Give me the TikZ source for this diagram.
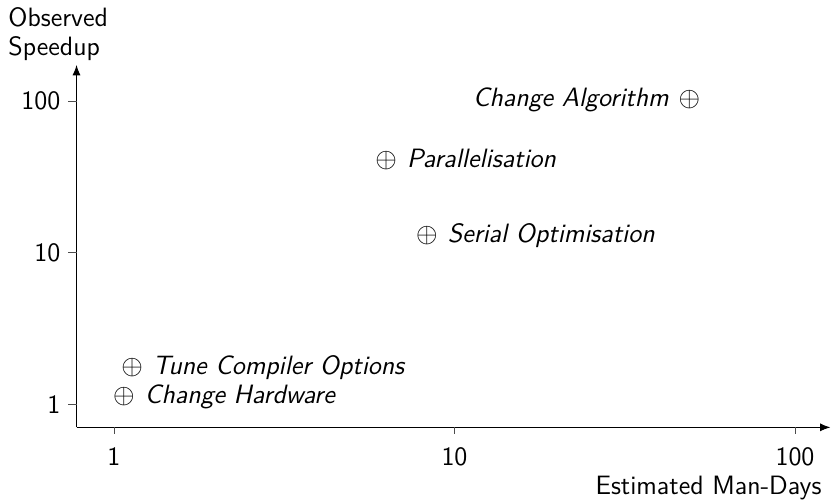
\documentclass[tikz,border=0pt]{standalone}
\usepackage{tikz}
\usetikzlibrary{arrows.meta,positioning}
\newcommand{\plotfont}{\sffamily\fontsize{11.5}{12.4}\selectfont}
\tikzset{axis/.style={-{Latex[length=4.5pt,width=3.5pt]},draw=black},
  tick/.style={draw=black!70,line width=0.4pt},
  datapt/.style={inner sep=2pt,text height=0.7em,text depth=0.2em},
  ptlabel/.style={font=\plotfont\itshape,inner sep=2pt,text height=0.7em,text depth=0.2em}}

\begin{document}
\begin{tikzpicture}[x=5.19cm,y=2.316cm,font=\plotfont]
\useasboundingbox (-0.3348,-0.625) rectangle (2.1087,2.6645);
% axes (log-log, one unit per decade)
\coordinate (o) at (-0.11,-0.148);
\coordinate (xend) at (2.104,-0.148);
\coordinate (yend) at (-0.11,2.237);
\draw[axis] (o)--(xend);
\draw[axis] (o)--(yend);
\foreach \e/\v in {0/1,1/10,2/100}{
  \coordinate (xt\v) at (\e,-0.148);
  \coordinate (yt\v) at (-0.11,\e);
  \draw[tick] (xt\v)--++(0pt,-3pt) coordinate (xe\v);
  \draw[tick] (yt\v)--++(-3.5pt,0pt) coordinate (ye\v);
  \node[below=5.6pt of xe\v,inner sep=0pt] (xl\v) {\v};
  \node[left=0pt of ye\v] (yl\v) {\v};
}
\node[anchor=base east,inner sep=0pt] (xlab) at (2.079,-0.592) {Estimated Man-Days};
\node[anchor=north west,inner sep=0pt] (ylab) at (-0.3113,2.625)
  {\plotfont\begin{tabular}{@{}l@{}}Observed\\Speedup\end{tabular}};
% estimates
\node[datapt] (hw) at ({log10(1.07)},{log10(1.11)}) {$\oplus$};
\node[ptlabel,right=0pt of hw] (hwl) {Change Hardware};
\node[datapt] (cc) at ({log10(1.13)},{log10(1.73)}) {$\oplus$};
\node[ptlabel,right=0pt of cc] (ccl) {Tune Compiler Options};
\node[datapt] (ser) at ({log10(8.3)},{log10(12.8)}) {$\oplus$};
\node[ptlabel,right=0pt of ser] (serl) {Serial Optimisation};
\node[datapt] (par) at ({log10(6.3)},{log10(40)}) {$\oplus$};
\node[ptlabel,right=0pt of par] (parl) {Parallelisation};
\node[datapt] (alg) at ({log10(49)},{log10(100)}) {$\oplus$};
\node[ptlabel,left=0pt of alg] (algl) {Change Algorithm};
\end{tikzpicture}
\end{document}
